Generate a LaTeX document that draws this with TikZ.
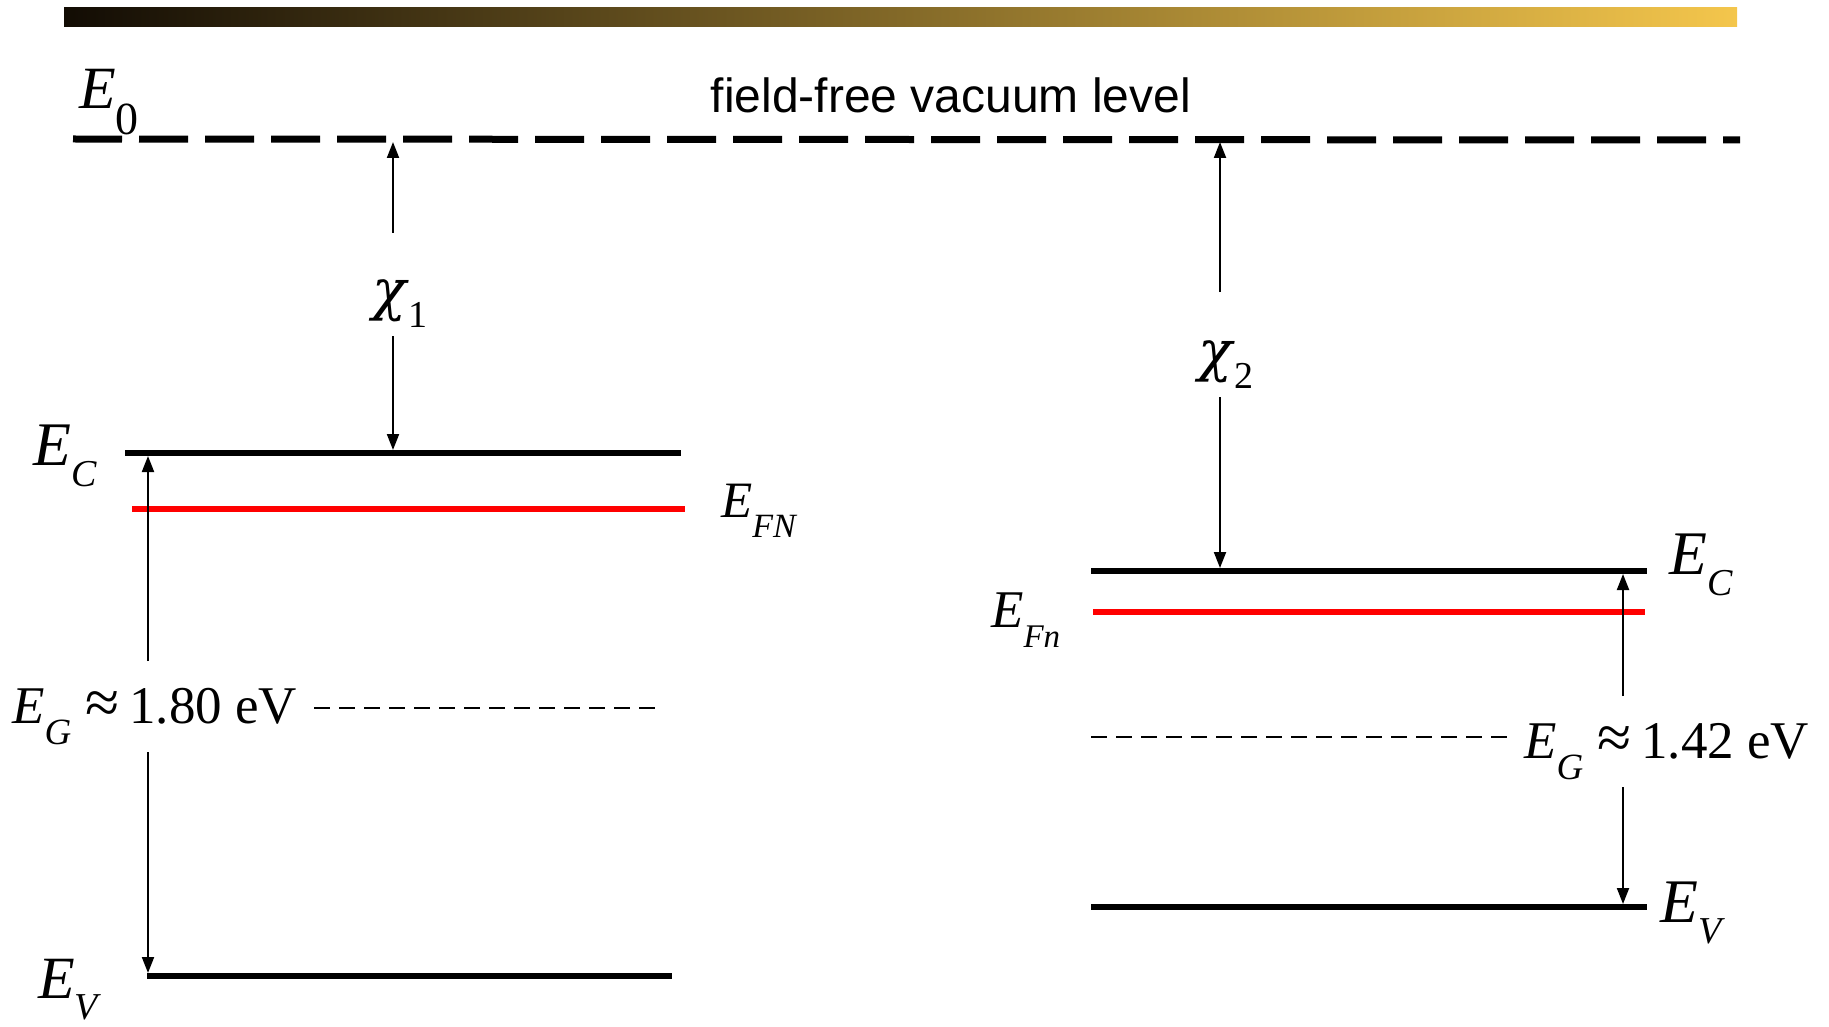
\documentclass[tikz,border=0pt]{standalone}
\usepackage{fontspec}
\setmainfont{Liberation Serif}
\newfontfamily\labelsans{Liberation Sans}
\newfontfamily\greekfont{DejaVu Serif}
\usetikzlibrary{arrows.meta}
\definecolor{barl}{HTML}{120C04}
\definecolor{barm}{HTML}{9C7F34}
\definecolor{barr}{HTML}{F4C64C}
\newcommand{\fs}[1]{\fontsize{#1}{#1}\selectfont}
% big symbol, sub size, symbol, subscript, drop of subscript
\newcommand{\lvl}[5]{{\fs{#1}\textit{#3}}\raisebox{-#5pt}{\fs{#2}#4}}

\begin{document}
\begin{tikzpicture}[x=1pt,y=-1pt,
  level/.style={line width=5.5pt},
  fermi/.style={line width=5.5pt,red},
  vac/.style={line width=7pt,dash pattern=on 49pt off 17pt},
  mid/.style={line width=2.2pt,dash pattern=on 16pt off 9pt},
  tip/.style={line width=2pt,-{Triangle[length=16pt,width=12pt]}},
  lbl/.style={inner sep=0pt,anchor=base west}]
\useasboundingbox (0,0) rectangle (1829,1027);
\shade[left color=barl,middle color=barm,right color=barr] (64,8) rectangle (1737,27);

% vacuum level
\coordinate (vacl) at (73,139);
\coordinate (vacr) at (1740,140);
\draw[vac] (vacl) -- (vacr);
\node[lbl] (e0) at (79,109) {\lvl{60}{46}{E}{0}{26}};
\node[inner sep=0pt,anchor=base,font=\labelsans\fs{48}] (vaclbl) at (951,113) {field-free vacuum level};

% left semiconductor
\coordinate (ec1l) at (125,453);
\coordinate (ec1r) at (681,453);
\coordinate (fn1l) at (132,509);
\coordinate (fn1r) at (685,509);
\coordinate (mg1l) at (314,708);
\coordinate (mg1r) at (663,708);
\coordinate (ev1l) at (147,976);
\coordinate (ev1r) at (672,976);
\draw[level] (ec1l) -- (ec1r);
\draw[fermi] (fn1l) -- (fn1r);
\draw[mid] (mg1l) -- (mg1r);
\draw[level] (ev1l) -- (ev1r);
\node[lbl] (ec1) at (33,465) {\lvl{62}{38}{E}{\textit{C}}{21}};
\node[lbl] (fn1) at (721,517) {\lvl{51}{34}{E}{\textit{FN}}{20}};
\node[lbl] (ev1) at (38,998) {\lvl{60}{38}{E}{\textit{V}}{21}};
\node[lbl] (eg1) at (12,723) {\lvl{53}{37}{E}{\textit{G}}{21}{\fs{53}\hspace{14pt}{\fs{62}≈}\hspace{10pt}1.80 eV}};
\node[inner sep=0pt] (chi1) at (400,304) {\lvl{56}{38}{\greekfont χ}{1}{18}};

\coordinate (x1v) at (393,142);
\coordinate (x1a) at (393,233);
\coordinate (x1b) at (393,336);
\coordinate (x1c) at (393,450);
\draw[tip] (x1a) -- (x1v);
\draw[tip] (x1b) -- (x1c);
\coordinate (g1c) at (148,456);
\coordinate (g1a) at (148,661);
\coordinate (g1b) at (148,752);
\coordinate (g1v) at (148,973);
\draw[tip] (g1a) -- (g1c);
\draw[tip] (g1b) -- (g1v);

% right semiconductor
\coordinate (ec2l) at (1091,571);
\coordinate (ec2r) at (1647,571);
\coordinate (fn2l) at (1093,612);
\coordinate (fn2r) at (1645,612);
\coordinate (mg2l) at (1091,737);
\coordinate (mg2r) at (1514,737);
\coordinate (ev2l) at (1091,907);
\coordinate (ev2r) at (1647,907);
\draw[level] (ec2l) -- (ec2r);
\draw[fermi] (fn2l) -- (fn2r);
\draw[mid] (mg2l) -- (mg2r);
\draw[level] (ev2l) -- (ev2r);
\node[lbl] (ec2) at (1669,574) {\lvl{62}{38}{E}{\textit{C}}{21}};
\node[lbl] (fn2) at (991,627) {\lvl{53}{33}{E}{\textit{Fn}}{20}};
\node[lbl] (ev2) at (1660,922) {\lvl{62}{38}{E}{\textit{V}}{21}};
\node[lbl] (eg2) at (1524,758) {\lvl{53}{37}{E}{\textit{G}}{21}{\fs{53}\hspace{14pt}{\fs{62}≈}\hspace{10pt}1.42 eV}};
\node[inner sep=0pt] (chi2) at (1226,365) {\lvl{56}{38}{\greekfont χ}{2}{18}};

\coordinate (x2v) at (1220,142);
\coordinate (x2a) at (1220,292);
\coordinate (x2b) at (1220,397);
\coordinate (x2c) at (1220,568);
\draw[tip] (x2a) -- (x2v);
\draw[tip] (x2b) -- (x2c);
\coordinate (g2c) at (1623,574);
\coordinate (g2a) at (1623,696);
\coordinate (g2b) at (1623,787);
\coordinate (g2v) at (1623,904);
\draw[tip] (g2a) -- (g2c);
\draw[tip] (g2b) -- (g2v);
\end{tikzpicture}
\end{document}
